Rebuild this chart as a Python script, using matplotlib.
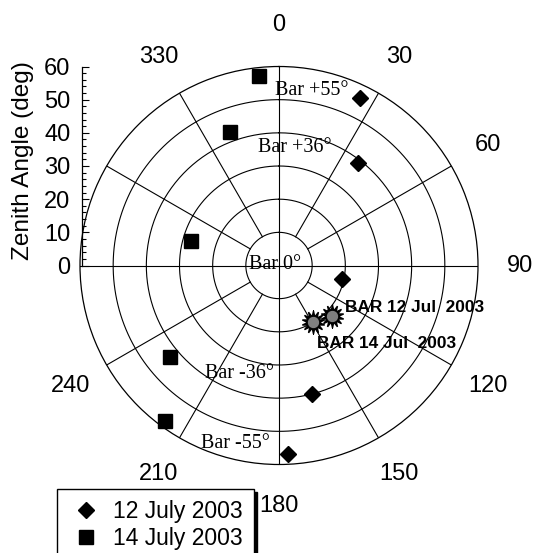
import numpy as np
import matplotlib.pyplot as plt

plt.rcParams['font.family'] = ['Liberation Sans', 'DejaVu Sans']

# azimuth (deg, clockwise from north) and zenith angle (deg)
az_12jul = [25.7, 37.8, 102.5, 165.5, 177.3]
zen_12jul = [56.2, 39.0, 19.5, 40.0, 57.0]
az_14jul = [354.0, 339.8, 285.3, 230.1, 216.3]
zen_14jul = [57.5, 43.0, 27.6, 43.0, 58.3]
az_bar = [133.3, 148.7]
zen_bar = [22.0, 19.8]
bar_names = ['BAR 12 Jul  2003', 'BAR 14 Jul  2003']

theta_labels = [0, 30, 60, 90, 120, 150, 180, 210, 240, 330]
ring_values = [10, 20, 30, 40, 50]
spoke_angles = [30, 60, 120, 150, 210, 240, 300, 330]
bar_text = ['Bar +55\u00b0', 'Bar +36\u00b0', 'Bar 0\u00b0', 'Bar -36\u00b0', 'Bar -55\u00b0']
bar_text_pos = [(10.5, 53.7), (7.7, 35.9), (284, 1.3), (199.9, 34.6), (193.9, 55.3)]

W, H = 533, 553
fig = plt.figure(figsize=(W / 100, H / 100), dpi=100)

cx, cy, R = 279, 265.5, 199
ax = fig.add_axes([(cx - R) / W, (H - cy - R) / H, 2 * R / W, 2 * R / H],
                  projection='polar')
ax.set_theta_zero_location('N')
ax.set_theta_direction(-1)
ax.set_ylim(0, 60)
ax.set_xticks([])
ax.set_yticks([])
ax.grid(False)
ax.spines['polar'].set_linewidth(0.9)

lw = 0.8
t = np.linspace(0, 2 * np.pi, 400)
for r in ring_values:
    ax.plot(t, np.full_like(t, r), color='k', lw=lw)
for a in spoke_angles:
    ax.plot(np.radians([a, a]), [10, 60], color='k', lw=lw)
for a in [0, 90, 180, 270]:
    ax.plot(np.radians([a, a]), [0, 60], color='k', lw=lw)

for a in theta_labels:
    ax.text(np.radians(a), 72.6, str(a), ha='center', va='center', fontsize=17)

for txt, (a, r) in zip(bar_text, bar_text_pos):
    ax.text(np.radians(a), r, txt, ha='center', va='center', fontsize=14.5,
            family='Liberation Serif')

ax.plot(np.radians(az_12jul), zen_12jul, 'D', color='k', ms=7.8,
        label='12 July 2003', clip_on=False, zorder=5)
ax.plot(np.radians(az_14jul), zen_14jul, 's', color='k', ms=9.6,
        label='14 July 2003', clip_on=False, zorder=5)

ax.plot(np.radians(az_bar), zen_bar, marker=(14, 1, 0), ls='none', color='k',
        ms=16.5, zorder=6)
ax.plot(np.radians(az_bar), zen_bar, 'o', mfc='#7f7f7f', mec='k', mew=0.8,
        ms=9, zorder=7)
ax.text(np.radians(122.5), 23.6, bar_names[0], ha='left', va='center',
        fontsize=12.4, fontweight='bold')
ax.text(np.radians(154.0), 26.2, bar_names[1], ha='left', va='center',
        fontsize=12.4, fontweight='bold')

# zenith angle scale along the west radius
sax = fig.add_axes([81.7 / W, (H - cy) / H, 0.0001, R / H])
sax.set_ylim(0, 60)
sax.set_xticks([])
sax.set_yticks(range(0, 61, 10))
sax.set_yticks(range(0, 61, 2), minor=True)
for s in ['top', 'right', 'bottom']:
    sax.spines[s].set_visible(False)
sax.spines['left'].set_linewidth(0.9)
sax.patch.set_visible(False)
sax.tick_params(axis='y', which='major', direction='in', length=5, width=0.8,
                labelsize=17, pad=8)
sax.tick_params(axis='y', which='minor', direction='in', length=3, width=0.8)
fig.text(23 / W, 1 - 160.5 / H, 'Zenith Angle (deg)', rotation=90,
         ha='center', va='center', fontsize=17.6)

leg = ax.legend(loc='upper left', bbox_to_anchor=(57 / W, 1 - 489 / H),
                bbox_transform=fig.transFigure, borderaxespad=0, fontsize=16.5,
                numpoints=1, fancybox=False, edgecolor='k', framealpha=1,
                shadow={'color': 'k', 'alpha': 1}, borderpad=0.5,
                handlelength=1.55, handletextpad=0.4, labelspacing=0.15)
leg.get_frame().set_linewidth(1.0)

fig.savefig('out.png', dpi=100)
